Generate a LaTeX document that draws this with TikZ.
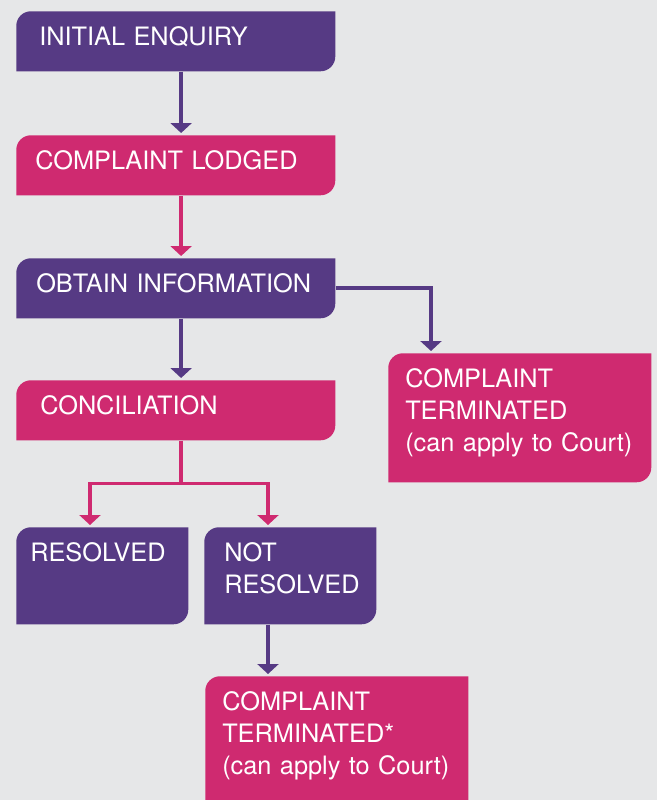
\documentclass[tikz,border=0pt]{standalone}
\usepackage{fontspec}
\setmainfont{TeX Gyre Heros}
\usepackage{xcolor}
\usetikzlibrary{arrows.meta}
\definecolor{flowpurple}{HTML}{563A84}
\definecolor{flowpink}{HTML}{CF2A70}
\definecolor{flowbg}{HTML}{E6E7E8}
\begin{document}
\begin{tikzpicture}[x=0.75pt, y=-0.75pt,
  box/.style={anchor=north west, inner ysep=0pt, text height=26pt, align=left, text=white,
    font=\fontsize{19}{24}\selectfont, fill=flowbg,
    path picture={\fill[#1] (path picture bounding box.south west)
      -- ([yshift=-11pt]path picture bounding box.north west) arc[start angle=180, end angle=90, radius=11pt]
      -- (path picture bounding box.north east)
      -- ([yshift=11pt]path picture bounding box.south east) arc[start angle=0, end angle=-90, radius=11pt]
      -- cycle;}},
  link/.style={line width=2.8pt, draw=#1},
  tip/.style={link=#1, -{Triangle[width=15.75pt, length=7.5pt]}, shorten >=1.5pt}]
  \useasboundingbox (0,0) rectangle (657,800);
  \clip (0,0) rectangle (657,800);
  \fill[flowbg] (0,0) rectangle (657,800);
  \node[box=flowpurple, inner xsep=17.25pt, text width=204.75pt, text depth=19pt] (enquiry) at (16,11) {INITIAL ENQUIRY};
  \node[box=flowpink, inner xsep=14.25pt, text width=210.75pt, text depth=19pt] (lodged) at (16,135) {COMPLAINT LODGED};
  \node[box=flowpurple, inner xsep=15pt, text width=209.25pt, text depth=19pt] (info) at (16,258) {OBTAIN INFORMATION};
  \node[box=flowpink, inner xsep=18pt, text width=203.25pt, text depth=19pt] (concil) at (16,380) {CONCILIATION};
  \node[box=flowpink, inner xsep=12.75pt, text width=171.75pt, text depth=70.75pt] (termA) at (388,353) {COMPLAINT\\TERMINATED\\\mbox{(can apply to Court)}};
  \node[box=flowpurple, inner xsep=10.5pt, text width=108pt, text depth=46.75pt] (resolved) at (16,527) {RESOLVED};
  \node[box=flowpurple, inner xsep=15pt, text width=99pt, text depth=46.75pt] (notres) at (204,527) {NOT\\RESOLVED};
  \node[box=flowpink, inner xsep=12.75pt, text width=171.75pt, text depth=86.5pt] (termB) at (205,676) {COMPLAINT\\TERMINATED*\\\mbox{(can apply to Court)}};
  \draw[tip=flowpurple] ([xshift=4pt]enquiry.south) -- ([xshift=4pt]lodged.north);
  \draw[tip=flowpink] ([xshift=4pt]lodged.south) -- ([xshift=4pt]info.north);
  \draw[tip=flowpurple] ([xshift=4pt]info.south) -- ([xshift=4pt]concil.north);
  \draw[tip=flowpurple] (info.east) -| ([xshift=32.25pt]termA.north west);
  \coordinate (split) at ([xshift=4pt, yshift=-32.25pt]concil.south);
  \draw[link=flowpink] ([xshift=4pt]concil.south) -- (split);
  \draw[tip=flowpink] (split) -| ([xshift=55.5pt]resolved.north west);
  \draw[tip=flowpink] (split) -| ([xshift=48pt]notres.north west);
  \coordinate (nrout) at ([xshift=48pt]notres.south west);
  \draw[tip=flowpurple] (nrout) -- (nrout |- termB.north);
\end{tikzpicture}
\end{document}
